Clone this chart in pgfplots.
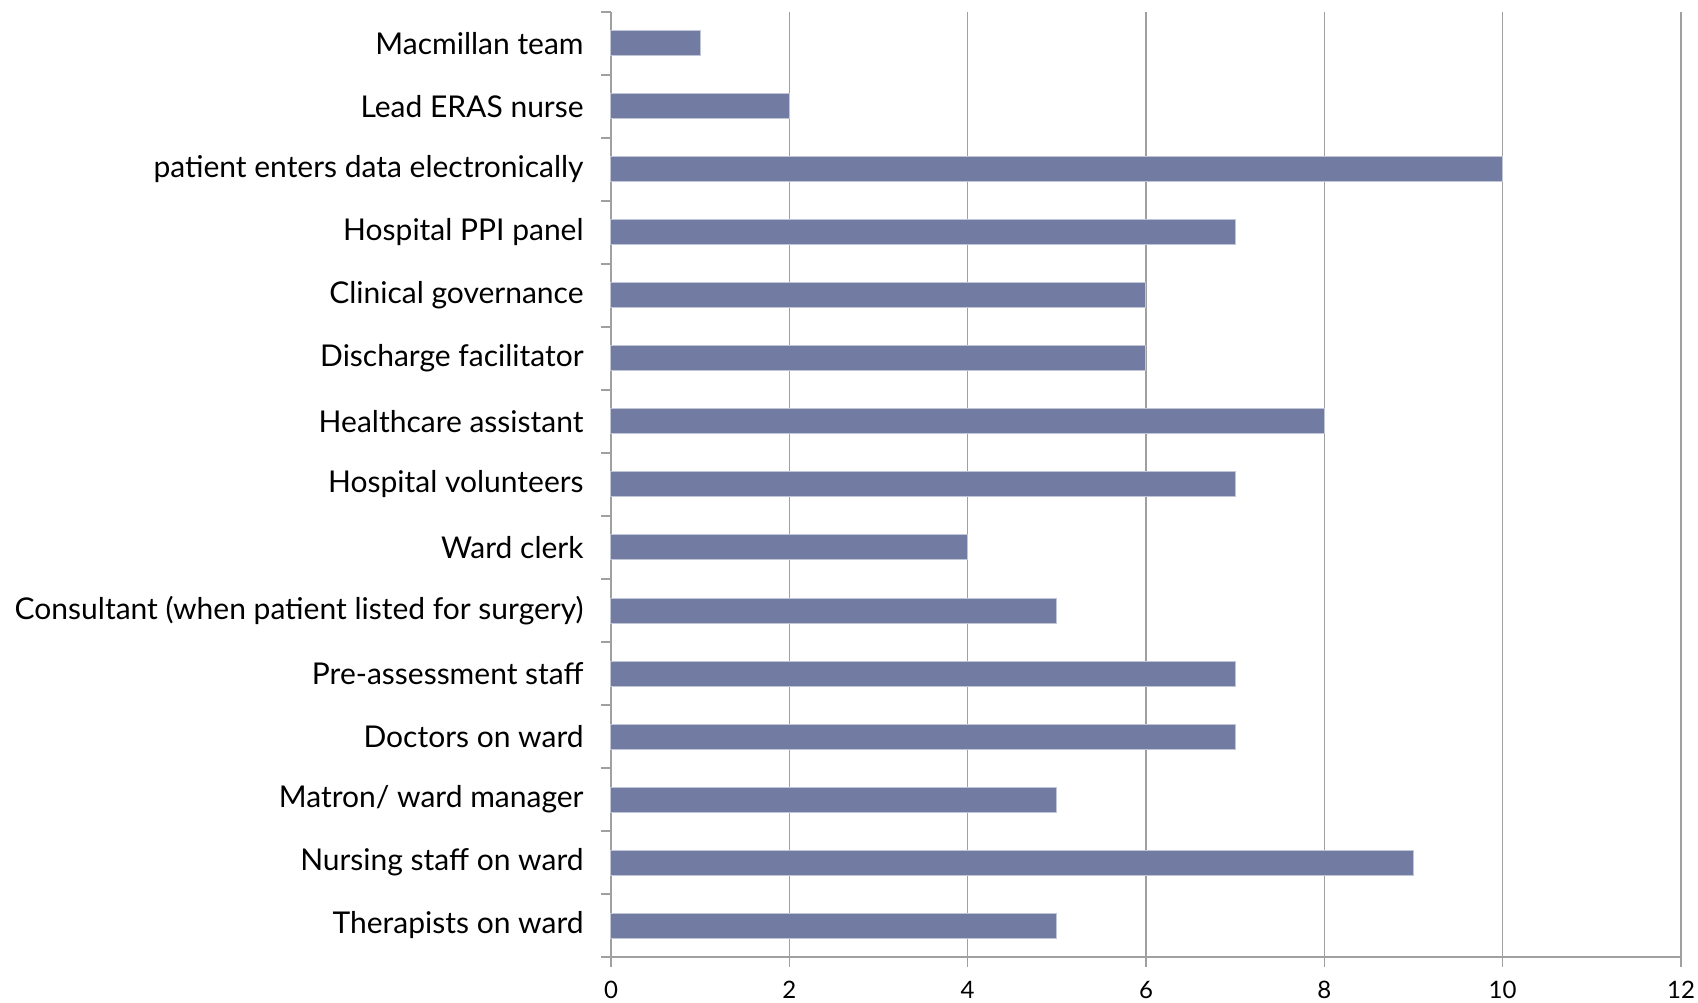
\documentclass[border=0pt]{standalone}
\usepackage{fontspec}
\setmainfont{Lato}
\usepackage{pgfplots}
\pgfplotsset{compat=1.18}

\definecolor{barfill}{RGB}{114,123,161}
\definecolor{baredge}{RGB}{192,197,216}
\definecolor{gridgray}{RGB}{160,160,160}

\begin{document}
\begin{tikzpicture}
\path[use as bounding box] (-305.5pt,-22.5pt) rectangle (543.5pt,478.5pt);
\begin{axis}[
  scale only axis,
  width=535pt, height=472.5pt,
  at={(0,0)}, anchor=south west,
  xbar, bar width=12.5pt,
  xmin=0, xmax=12,
  ymin=-0.5, ymax=14.5,
  xtick={0,2,...,12},
  ytick={0,...,14},
  yticklabels={Therapists on ward, Nursing staff on ward, Matron/ ward manager,
    Doctors on ward, Pre-assessment staff, Consultant (when patient listed for surgery),
    Ward clerk, Hospital volunteers, Healthcare assistant, Discharge facilitator,
    Clinical governance, Hospital PPI panel, patient enters data electronically,
    Lead ERAS nurse, Macmillan team},
  minor ytick={-0.5,0.5,...,14.5},
  axis lines*=left,
  axis line style={gridgray, line width=0.8pt, -},
  xmajorgrids,
  major grid style={gridgray, line width=0.8pt},
  tick align=outside,
  ytick style={draw=none},
  minor y tick style={draw=gridgray, line width=0.8pt},
  minor tick length=5pt,
  xtick style={gridgray, line width=0.8pt},
  major tick length=5pt,
  x tick label style={font=\fontsize{12}{14}\selectfont, inner sep=0pt, anchor=north, yshift=-7pt},
  y tick label style={font=\fontsize{15}{18}\selectfont, inner sep=0pt, anchor=east, xshift=-8.5pt},
  /pgf/number format/assume math mode=true,
  clip=false,
]
\addplot[fill=barfill, draw=baredge, line width=0.5pt] coordinates {
  (5,0) (9,1) (5,2) (7,3) (7,4) (5,5) (4,6) (7,7) (8,8) (6,9) (6,10) (7,11) (10,12) (2,13) (1,14)
};
\end{axis}
\end{tikzpicture}
\end{document}
